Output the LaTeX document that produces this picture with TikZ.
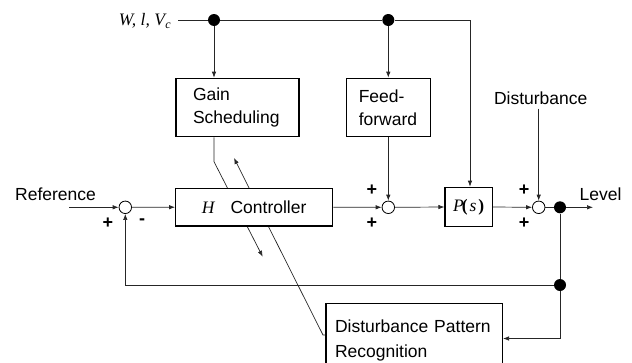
\documentclass[tikz,border=0pt]{standalone}
\usepackage{fontspec}
\setmainfont{Liberation Sans}
\newfontfamily\tim{Liberation Serif}
\usetikzlibrary{arrows.meta}
\begin{document}
\begin{tikzpicture}[x=1pt,y=-1pt,
  every node/.style={font=\fontsize{17.5}{23}\selectfont},
  blk/.style={draw,fill=white,line width=1.3pt,inner sep=0pt},
  ln/.style={line width=0.7pt, draw=black!85},
  arr/.style={ln,-{Latex[length=6pt,width=4.5pt]}},
  sumc/.style={circle,draw,line width=0.8pt,fill=white,minimum size=12.5pt,inner sep=0pt},
  dot/.style={circle,fill=black,minimum size=12pt,inner sep=0pt},
  sgn/.style={font=\bfseries\fontsize{18}{18}\selectfont,inner sep=0pt},
  lbl/.style={inner sep=0pt}]
\useasboundingbox (0,0) rectangle (632,362);
\clip (0,0) rectangle (632,362);

% input label and top distribution line
\node[lbl, anchor=east] (wlv) at (171,21) {\tim\itshape W, l, V\kern0.5pt\raisebox{-3pt}{\fontsize{12}{12}\selectfont c}};
\coordinate (wstart) at (178,20);
\node[dot] (d1) at (214,20) {};
\node[dot] (d2) at (388.3,20) {};
\coordinate (corner) at (470,20);

% boxes
\node[blk, inner xsep=17pt, text width=89pt, minimum height=58.4pt, align=left] (gs) at (237.5,107.5) {Gain\\Scheduling};
\node[blk, inner xsep=12pt, text width=60pt, minimum height=58.4pt, align=left] (ff) at (388.8,107.5) {Feed-\\forward};

% disturbance
\node[lbl] (dist) at (540.7,98) {Disturbance};

% reference and summing junctions
\node[lbl, anchor=west] (ref) at (15,194) {Reference};
\coordinate (refin) at (69,207.3);
\node[sumc] (s1) at (125.3,207.3) {};
\node[sumc] (s2) at (388.3,207.3) {};
\node[sumc] (s3) at (538.7,207.3) {};
\node[dot] (d3) at (560,207.3) {};
\coordinate (lvl) at (593,207.3);
\node[lbl, anchor=west] (level) at (579.5,194) {Level};
\node[dot] (d4) at (560,285) {};
\coordinate (fbc) at (125.3,285);
\coordinate (dprc) at (560,338.5);

% signs
\node[sgn] (p1) at (108,223) {+};
\node[sgn] (m1) at (142,222) {-};
\node[sgn] (p2) at (372,190) {+};
\node[sgn] (p3) at (372,223) {+};
\node[sgn] (p4) at (524,190) {+};
\node[sgn] (p5) at (524,223) {+};

% gain-scheduling adjustment line (A) and pattern line (B), under the controller
\coordinate (a1) at (214,161.7);
\coordinate (atip) at (262.7,256.7);
\coordinate (b1) at (323,335);
\coordinate (btip) at (234,158);
\draw[arr] (gs.south -| a1) -- (a1) -- (atip);

% DPR box
\node[blk, inner xsep=9pt, text width=158.3pt, minimum height=74pt, align=left] (dpr) at (414.2,340.3) {Disturbance Pattern\\[2.5pt]Recognition};
\draw[arr] (dpr.west |- b1) -- (b1) -- (btip);

% controller and plant
\node[blk, minimum width=157pt, minimum height=37.7pt] (ctrl) at (254.2,207.2) {{\tim\itshape H}\hspace{16pt}Controller};
\node[blk, minimum width=47.3pt, minimum height=39.4pt] (P) at (468.7,207) {{\tim\itshape P\kern-2pt}{\tim\bfseries(}\kern2pt{\tim\itshape s}\kern2pt{\tim\bfseries)}};

% connectors
\draw[ln] (wstart) -- (d1) -- (d2) -- (corner);
\draw[arr] (d1) -- (gs.north -| d1);
\draw[arr] (d2) -- (ff.north -| d2);
\draw[arr] (corner) -- (P.north -| corner);
\draw[arr] (refin) -- (s1.west);
\draw[arr] (s1.east) -- (ctrl.west);
\draw[arr] (ctrl.east) -- (s2.west);
\draw[arr] (ff.south -| s2) -- (s2.north);
\draw[arr] (s2.east) -- (P.west);
\draw[arr] (P.east) -- (s3.west);
\draw[arr] (dist.south -| s3) ++(0,4) -- (s3.north);
\draw[ln] (s3.east) -- (d3);
\draw[arr] (d3) -- (lvl);
\draw[ln] (d3) -- (d4);
\draw[arr] (d4) -- (fbc) -- (s1.south);
\draw[arr] (d4) -- (dprc) -- (dpr.east |- dprc);
\end{tikzpicture}
\end{document}
